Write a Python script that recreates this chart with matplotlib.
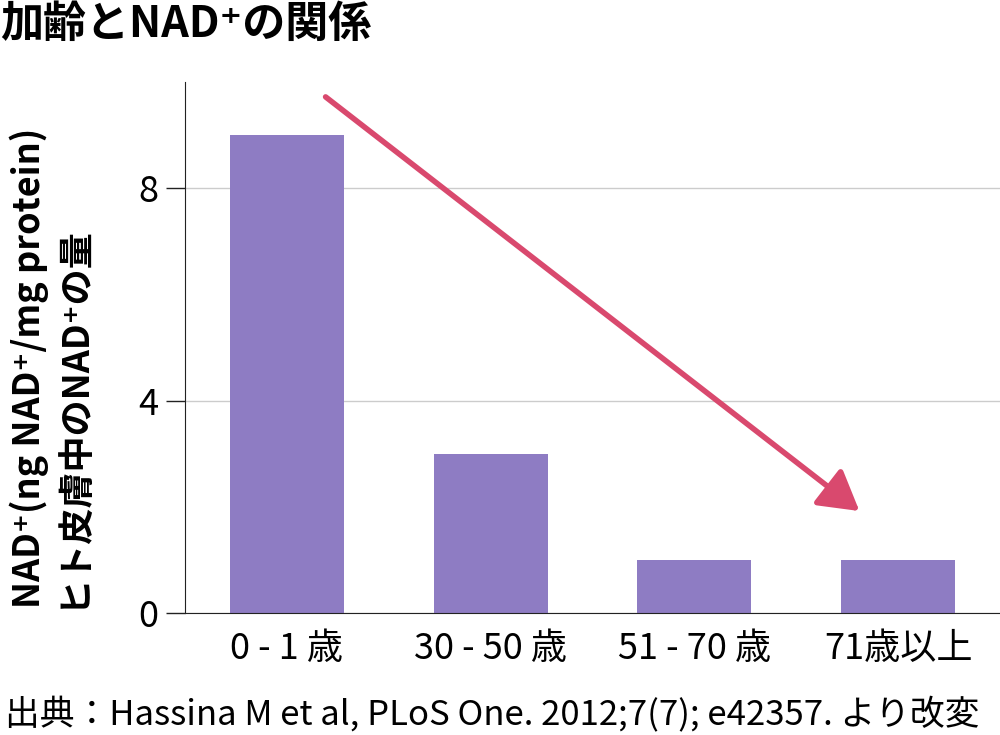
import matplotlib
matplotlib.use('Agg')
import matplotlib.pyplot as plt

plt.rcParams['font.family'] = ['Noto Sans CJK JP', 'DejaVu Sans']

# データ
categories = ['0 - 1 歳', '30 - 50 歳', '51 - 70 歳', '71歳以上']
nad_values = [9.0, 3.0, 1.0, 1.0]
y_ticks = [0, 4, 8]

# 矢印の始点と終点 (データ座標)
arrow_start = (0.19, 9.72)
arrow_end = (2.81, 1.92)

title = '加齢とNAD⁺の関係'
ylabel = 'NAD⁺(ng NAD⁺/mg protein)\nヒト皮膚中のNAD⁺の量'
source = '出典：Hassina M et al, PLoS One. 2012;7(7); e42357. より改変'

bar_color = '#8e7cc3'
arrow_color = '#d9496e'

fig = plt.figure(figsize=(10, 7.35), dpi=100)
ax = fig.add_axes([0.185, 0.166, 0.815, 0.7224])

x = range(len(categories))
ax.bar(x, nad_values, width=0.56, color=bar_color, zorder=2)

ax.set_xlim(-0.5, 3.5)
ax.set_ylim(0, 10)
ax.set_yticks(y_ticks)
ax.set_yticklabels([str(t) for t in y_ticks], fontsize=26)
ax.set_xticks(list(x))
ax.set_xticklabels(categories, fontsize=26)
ax.tick_params(axis='x', length=0, pad=13)
ax.tick_params(axis='y', length=14, width=1, color='#222222', pad=5)

ax.yaxis.grid(True, color='#cccccc', linewidth=1, zorder=0)
ax.set_axisbelow(True)

for side in ['top', 'right']:
    ax.spines[side].set_visible(False)
ax.spines['left'].set_color('#222222')
ax.spines['bottom'].set_color('#222222')

# 矢印
ax.annotate('', xy=arrow_end, xytext=arrow_start,
            arrowprops=dict(arrowstyle='-|>,head_length=0.6,head_width=0.35',
                            mutation_scale=40, lw=4, color=arrow_color,
                            shrinkA=0, shrinkB=0), zorder=3)

# 縦軸ラベル
fig.text(0.05, 0.5, ylabel, rotation=90, fontsize=26, fontweight='bold',
         ha='center', va='center', multialignment='left', linespacing=1.15)

# タイトル
fig.text(0.0, 0.968, title, fontsize=31, fontweight='bold', ha='left', va='center')

# 出典
fig.text(0.005, 0.027, source, fontsize=25, ha='left', va='center')

plt.savefig('out.png', dpi=100)
